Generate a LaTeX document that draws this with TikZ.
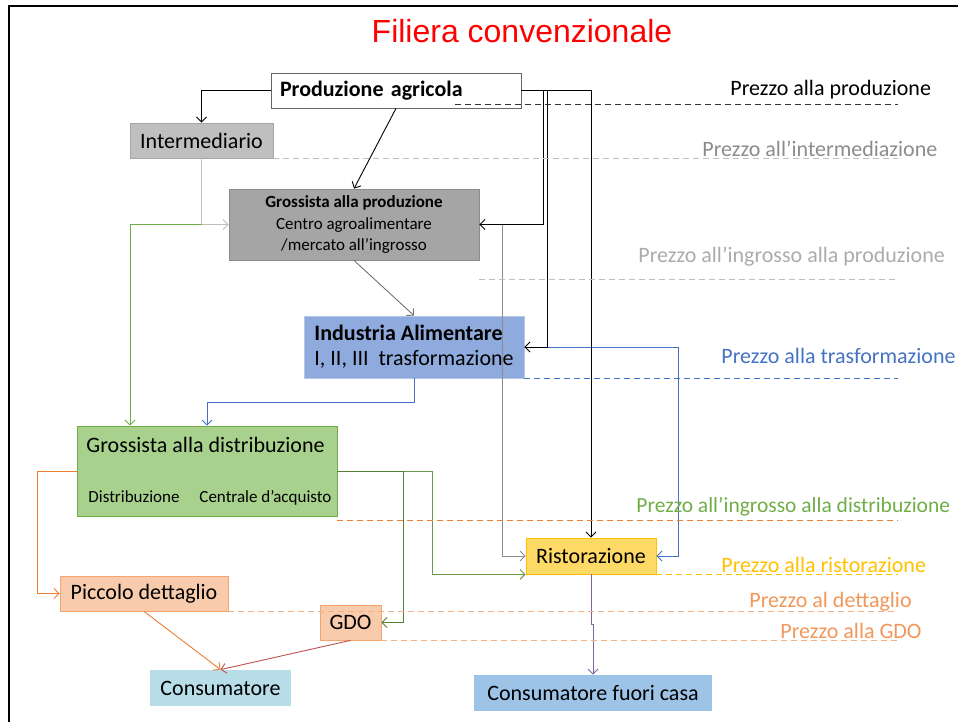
\documentclass[tikz,border=0pt]{standalone}
\usepackage{fontspec}
\setmainfont{Carlito}
\newfontfamily\titlefont{Liberation Sans}
\usetikzlibrary{arrows.meta}
\definecolor{grigio}{HTML}{BFBFBF}
\definecolor{grigioB}{HTML}{A6A6A6}
\definecolor{grigioC}{HTML}{A5A5A5}
\definecolor{grigioD}{HTML}{8C8C8C}
\definecolor{blu}{HTML}{8FAADC}
\definecolor{bluB}{HTML}{B4C7E7}
\definecolor{bluL}{HTML}{4472C4}
\definecolor{verde}{HTML}{A9D18E}
\definecolor{verdeB}{HTML}{70AD47}
\definecolor{verdeS}{HTML}{548235}
\definecolor{verdeR}{HTML}{6A9A4A}
\definecolor{giallo}{HTML}{FFD966}
\definecolor{gialloB}{HTML}{FFC000}
\definecolor{rosa}{HTML}{F8CBAD}
\definecolor{rosaB}{HTML}{F4A46C}
\definecolor{arancio}{HTML}{ED7D31}
\definecolor{arancioL}{HTML}{F4B183}
\definecolor{rosso}{HTML}{C0504D}
\definecolor{viola}{HTML}{8064A2}
\definecolor{azzurro}{HTML}{B7DEE8}
\definecolor{celeste}{HTML}{9DC3E6}

\begin{document}
\begin{tikzpicture}[x=1pt,y=-1pt,->,>={Straight Barb[length=5pt,width=10pt]},line width=0.9pt,
  every node/.style={font=\fontsize{22}{25}\selectfont},
  box/.style={draw,rectangle,inner sep=0pt,line width=0.8pt},
  small/.style={font=\fontsize{17}{21.5}\selectfont},
  price/.style={anchor=base west,inner sep=0pt},
  guide/.style={-,dash pattern=on 6pt off 4pt,line width=0.9pt}]
  \useasboundingbox (0,0) rectangle (958,722);
  \draw[-,line width=2.5pt] (9,722) -- (9,6) -- (958,6);
  \coordinate (fine) at (898,0);

  \node[anchor=base,inner sep=0pt,text=red,font=\titlefont\fontsize{32}{36}\selectfont] (titolo) at (522,43) {Filiera convenzionale};

  \node[box,fill=white,draw=black!60,minimum width=250pt,minimum height=35pt,text width=232pt,inner xsep=9pt,align=left] (prod) at (396,90.5) {\textbf{Produzione agricola}};
  \node[box,fill=grigio,draw=grigioB,minimum width=143pt,minimum height=35pt] (inter) at (201.5,140.5) {Intermediario};
  \node[box,fill=grigioC,draw=grigioD,minimum width=250pt,minimum height=71pt,align=center,small] (gprod) at (354,224.5) {\textbf{Grossista alla produzione}\\Centro agroalimentare\\/mercato all’ingrosso};
  \node[box,fill=blu,draw=bluB,minimum width=220pt,minimum height=62pt,align=left] (ind) at (414,347) {\textbf{Industria Alimentare}\\I, II, III~ trasformazione};
  \node[box,fill=verde,draw=verdeB,minimum width=260pt,minimum height=90pt] (gdist) at (207,471) {};
  \node[anchor=base west,inner sep=0pt] (gdistT) at (86,452) {Grossista alla distribuzione};
  \node[small,anchor=base west,inner sep=0pt] (gdistD) at (88,502) {Distribuzione};
  \node[small,anchor=base west,inner sep=0pt] (gdistC) at (199,502) {Centrale d’acquisto};
  \node[box,fill=giallo,draw=gialloB,minimum width=130pt,minimum height=36pt] (rist) at (591,556) {Ristorazione};
  \node[box,fill=rosa,draw=rosaB,minimum width=168pt,minimum height=35pt] (picc) at (144,593.5) {Piccolo dettaglio};
  \node[box,fill=rosa,draw=rosaB,minimum width=61pt,minimum height=35pt] (gdo) at (350.5,622.5) {GDO};
  \node[box,fill=azzurro,draw=none,minimum width=141pt,minimum height=36pt] (cons) at (220.5,688) {Consumatore};
  \node[box,fill=celeste,draw=none,minimum width=238pt,minimum height=36pt] (cfc) at (593,693) {Consumatore fuori casa};

  \coordinate (j1) at (inter.south |- gprod.west);
  \draw[grigio] (inter.south) |- (gprod.west);
  \draw[verdeB] (j1) -| ([xshift=-77pt]gdist.north);
  \draw (prod.west) -| (inter.north);
  \draw (prod.south) -- (gprod.north);
  \draw[black!55] (gprod.south) -- (ind.north);
  \draw[grigioD] (gprod.east) -- ++(23.5,0) |- (rist.west);
  \draw[bluL] (ind.east) -- ++(154,0) |- (rist.east);
  \draw (prod.east) -- ++(22,0) |- (gprod.east);
  \draw (prod.east) -- ++(26,0) |- (ind.east);
  \draw (prod.east) -| (rist.north);
  \draw[bluL] (ind.south) -- ++(0,24) -| (gdist.north);
  \draw[arancio] (gdist.west) -- ++(-39,0) |- (picc.west);
  \draw[verdeR] (gdist.east) -- ++(95,0) |- (rist.south west);
  \draw[verdeS] (gdist.east) -- ++(66,0) |- (gdo.east);
  \draw[arancio] (picc.south) -- (cons.north);
  \draw[rosso] (gdo.south) -- (cons.north);
  \draw[viola] (rist.south) -- ++(0,50) -| (cfc.north);

  \coordinate (d1) at (455,104);
  \draw[guide,black!80] (d1) -- (d1 -| fine);
  \draw[guide,grigio] (inter.south east) -- (inter.south east -| fine);
  \draw[guide,grigio] ([yshift=-19pt]gprod.south east) -- ([yshift=-19pt]gprod.south east -| fine);
  \draw[guide,bluL] (ind.south east) -- (ind.south east -| fine);
  \draw[guide,arancio] ([yshift=-4pt]gdist.south east) -- ([yshift=-4pt]gdist.south east -| fine);
  \draw[guide,gialloB] (rist.south east) -- (rist.south east -| fine);
  \draw[guide,arancioL] (picc.south east) -- (picc.south east -| fine);
  \draw[guide,arancioL] (gdo.south east) -- (gdo.south east -| fine);

  \node[price] (p1) at (730,96) {Prezzo alla produzione};
  \node[price,text=black!45] (p2) at (702,157) {Prezzo all’intermediazione};
  \node[price,text=black!33] (p3) at (638,262) {Prezzo all’ingrosso alla produzione};
  \node[price,text=bluL] (p4) at (721,363) {Prezzo alla trasformazione};
  \node[price,text=verdeB,font=\fontsize{21.5}{25}\selectfont] (p5) at (636,512) {Prezzo all’ingrosso alla distribuzione};
  \node[price,text=gialloB] (p6) at (721,572) {Prezzo alla ristorazione};
  \node[price,text=arancio!80] (p7) at (749,607) {Prezzo al dettaglio};
  \node[price,text=arancio!80] (p8) at (780,638) {Prezzo alla GDO};
\end{tikzpicture}
\end{document}
